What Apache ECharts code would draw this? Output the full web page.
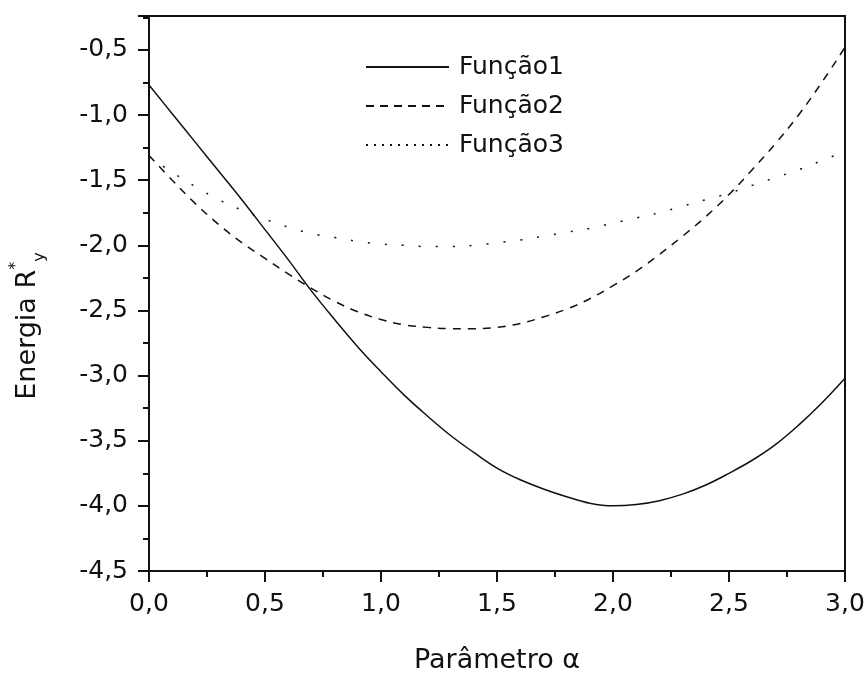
<!DOCTYPE html>
<html>
<head>
<meta charset="utf-8">
<script src="https://cdn.jsdelivr.net/npm/echarts@6/dist/echarts.min.js"></script>
<style>
  html, body { margin: 0; padding: 0; background: #fff; }
  #chart { width: 868px; height: 679px; }
</style>
</head>
<body>
<div id="chart"></div>
<script>
// parâmetro alfa
const alphas = [0, 0.1, 0.2, 0.3, 0.4, 0.5, 0.6, 0.7, 0.8, 0.9, 1.0,
  1.1, 1.2, 1.3, 1.4, 1.5, 1.6, 1.7, 1.8, 1.9, 2.0,
  2.1, 2.2, 2.3, 2.4, 2.5, 2.6, 2.7, 2.8, 2.9, 3.0];

const funcao1 = [-0.77, -0.99, -1.21, -1.43, -1.65, -1.88, -2.11, -2.35, -2.57, -2.78, -2.97,
  -3.15, -3.31, -3.46, -3.59, -3.71, -3.80, -3.87, -3.93, -3.98, -4.00,
  -3.99, -3.96, -3.91, -3.84, -3.75, -3.65, -3.53, -3.38, -3.21, -3.02];

const funcao2 = [-1.31, -1.50, -1.68, -1.84, -1.98, -2.10, -2.22, -2.33, -2.43, -2.51, -2.57,
  -2.61, -2.63, -2.64, -2.64, -2.63, -2.60, -2.55, -2.49, -2.41, -2.31,
  -2.20, -2.07, -1.93, -1.78, -1.61, -1.42, -1.22, -1.00, -0.75, -0.48];

const funcao3 = [-1.32, -1.44, -1.55, -1.65, -1.73, -1.80, -1.86, -1.91, -1.94, -1.97, -1.99,
  -2.00, -2.01, -2.01, -2.00, -1.98, -1.96, -1.93, -1.90, -1.87, -1.83,
  -1.79, -1.75, -1.70, -1.65, -1.60, -1.54, -1.48, -1.42, -1.35, -1.28];

const nomes = ['Função1', 'Função2', 'Função3'];

const ink = '#111';
const fonte = 'DejaVu Sans';

const pares = (ys) => alphas.map((a, i) => [a, ys[i]]);
const virgula = (v) => v.toFixed(1).replace('.', ',');

const chart = echarts.init(document.getElementById('chart'));

chart.setOption({
  backgroundColor: '#fff',
  animation: false,
  grid: {
    left: 149,
    right: 23,
    top: 16,
    bottom: 101,
    show: true,
    borderColor: ink,
    borderWidth: 2
  },
  legend: {
    orient: 'vertical',
    left: 360,
    top: 48,
    itemWidth: 83,
    itemHeight: 14,
    itemGap: 11,
    itemStyle: { opacity: 0 },
    textStyle: {
      fontFamily: fonte,
      fontSize: 25,
      color: ink,
      lineHeight: 28,
      padding: [0, 0, 0, 5]
    },
    data: [
      { name: nomes[0], lineStyle: { type: 'solid' } },
      { name: nomes[1], lineStyle: { type: [8, 6] } },
      { name: nomes[2], lineStyle: { type: [2, 6] } }
    ]
  },
  xAxis: {
    type: 'value',
    min: 0,
    max: 3,
    interval: 0.5,
    name: 'Parâmetro α',
    nameLocation: 'middle',
    nameGap: 76,
    nameTextStyle: { fontFamily: fonte, fontSize: 27, color: ink },
    axisLine: { lineStyle: { color: ink, width: 2 } },
    axisTick: { inside: false, length: 11, lineStyle: { color: ink, width: 2 } },
    minorTick: { show: true, splitNumber: 2, length: 6, lineStyle: { color: ink, width: 2 } },
    splitLine: { show: false },
    axisLabel: {
      margin: 21,
      fontFamily: fonte,
      fontSize: 25,
      color: ink,
      formatter: virgula
    }
  },
  yAxis: {
    type: 'value',
    min: -4.5,
    max: -0.24,
    interval: 0.5,
    axisLine: { show: true, lineStyle: { color: ink, width: 2 } },
    axisTick: { show: true, inside: false, length: 11, lineStyle: { color: ink, width: 2 } },
    minorTick: { show: true, splitNumber: 2, length: 6, lineStyle: { color: ink, width: 2 } },
    splitLine: { show: false },
    axisLabel: {
      margin: 21,
      showMaxLabel: false,
      fontFamily: fonte,
      fontSize: 25,
      color: ink,
      formatter: virgula
    }
  },
  graphic: [{
    type: 'text',
    x: 28,
    y: 326,
    rotation: Math.PI / 2,
    style: {
      text: '{m|Energia R}{s|*}{b|y}',
      align: 'center',
      verticalAlign: 'middle',
      textAlign: 'center',
      textVerticalAlign: 'middle',
      fill: ink,
      rich: {
        m: { fontFamily: fonte, fontSize: 27, lineHeight: 40, fill: ink, color: ink },
        s: { fontFamily: fonte, fontSize: 16, lineHeight: 16, verticalAlign: 'top', fill: ink, color: ink },
        b: { fontFamily: fonte, fontSize: 16, lineHeight: 16, verticalAlign: 'bottom', fill: ink, color: ink }
      }
    }
  }],
  series: [
    {
      name: nomes[0], type: 'line', data: pares(funcao1), smooth: 0.4,
      symbol: 'none', itemStyle: { color: ink },
      lineStyle: { color: ink, width: 1.5, type: 'solid' }
    },
    {
      name: nomes[1], type: 'line', data: pares(funcao2), smooth: 0.4,
      symbol: 'none', itemStyle: { color: ink },
      lineStyle: { color: ink, width: 1.5, type: [8, 7] }
    },
    {
      name: nomes[2], type: 'line', data: pares(funcao3), smooth: 0.4,
      symbol: 'none', itemStyle: { color: ink },
      lineStyle: { color: ink, width: 1.5, type: [2, 15] }
    }
  ]
});
</script>
</body>
</html>
